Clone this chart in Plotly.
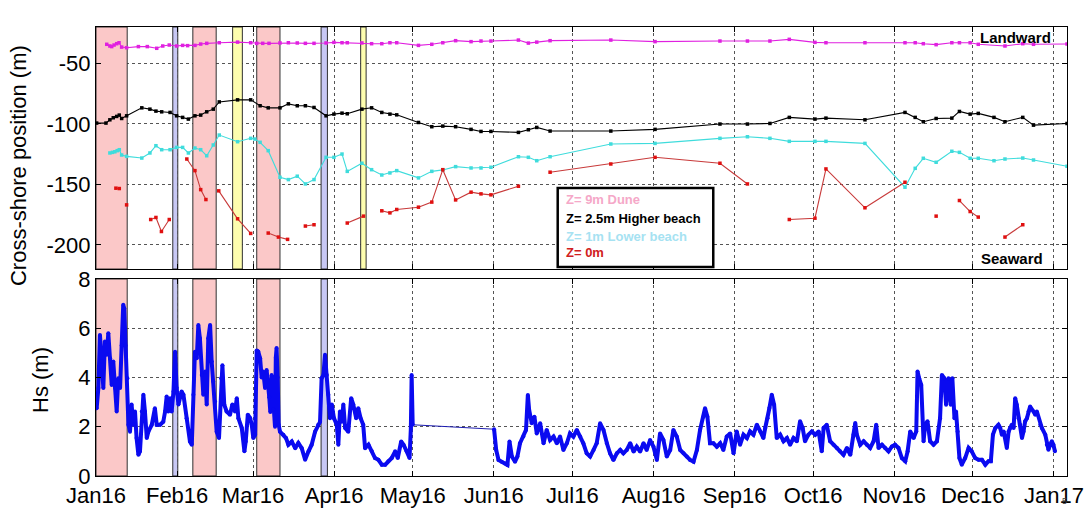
import plotly.graph_objects as go
from plotly.subplots import make_subplots
from datetime import datetime, timedelta

BASE = datetime(2016, 1, 1)

# ---------------- data (days since 2016-01-01) ----------------
dune_day = [4.1, 5.3, 6.0, 6.9, 7.9, 8.8, 9.8, 11.7, 16.2, 19.6, 23.2, 25.5, 28.0, 30.8, 33.1, 35.0,
            37.8, 40.0, 42.3, 47.1, 54.1, 59.1, 61.4, 63.7, 66.1, 70.3, 73.5, 76.9, 80.0, 83.3, 87.9, 90.9,
            94.0, 96.0, 101.6, 105.3, 109.2, 112.3, 114.9, 123.2, 128.3, 132.5, 137.4, 143.3, 147.1, 150.9,
            161.4, 165.2, 168.4, 173.5, 196.7, 213.6, 238.4, 248.9, 257.5, 264.9, 274.7, 278.9, 293.8, 309.1,
            313.0, 316.1, 321.0, 327.0, 329.9, 334.0, 337.1, 347.3, 354.1, 358.2, 371]
dune_m = [-34.3, -35.7, -36.2, -34.9, -33.8, -33.0, -36.6, -37.1, -36.2, -36.2, -37.6, -35.7, -34.9, -35.7, -35.2, -35.4,
          -35.2, -34.1, -33.5, -33.0, -32.5, -33.0, -33.5, -33.5, -33.5, -33.2, -33.0, -33.2, -33.5, -33.5, -33.2, -32.7,
          -33.0, -33.0, -33.2, -33.8, -33.8, -33.0, -33.0, -35.2, -34.3, -33.0, -31.3, -32.1, -31.6, -31.6,
          -30.8, -33.3, -32.5, -31.3, -30.8, -32.1, -31.6, -31.6, -31.6, -30.2, -32.7, -33.0, -33.0, -33.0,
          -33.0, -33.8, -34.6, -33.0, -33.0, -33.0, -34.3, -35.7, -33.8, -34.3, -34.0]

high_day = [0.25, 3.8, 5.3, 6.6, 7.9, 8.9, 9.8, 11.7, 17.5, 20.6, 22.9, 25.1, 28.3, 30.8, 33.1, 35.3,
            37.8, 40.0, 42.3, 44.8, 47.1, 54.1, 59.1, 62.7, 65.8, 70.3, 73.5, 76.9, 80.0, 83.3, 87.9, 90.9,
            94.0, 96.0, 101.6, 105.3, 109.2, 112.3, 114.9, 123.2, 128.3, 132.5, 137.4, 143.3, 147.1, 150.9,
            161.4, 165.2, 168.4, 173.5, 196.7, 213.6, 238.4, 248.9, 257.5, 264.9, 274.7, 278.9, 293.8, 309.1,
            313.0, 316.1, 321.0, 327.0, 329.9, 334.0, 337.1, 343.1, 347.3, 354.1, 358.2, 371]
high_m = [-99.4, -99.4, -96.7, -95.0, -93.9, -92.8, -95.6, -93.4, -86.8, -87.9, -89.5, -90.1, -90.6, -93.4, -94.7, -96.1,
          -93.4, -92.8, -90.1, -87.9, -81.9, -80.2, -80.2, -85.1, -86.8, -86.8, -83.5, -85.1, -85.1, -86.5, -93.4, -92.0,
          -91.2, -91.7, -87.9, -86.8, -90.6, -92.0, -92.6, -98.9, -102.4, -101.9, -102.4, -104.6, -106.3, -106.3,
          -107.1, -104.9, -103.0, -106.0, -106.0, -104.6, -100.2, -100.2, -99.7, -94.7, -96.1, -95.3, -96.7, -90.6,
          -94.7, -98.3, -95.6, -95.3, -89.8, -92.0, -91.4, -94.7, -98.3, -94.7, -101.1, -99.7]

low_day = [5.3, 6.3, 7.2, 8.1, 8.9, 9.8, 11.7, 17.5, 20.6, 22.9, 25.1, 28.3, 30.8, 33.1, 35.3,
           37.8, 40.0, 42.3, 44.8, 47.1, 54.1, 59.1, 60.7, 62.7, 65.8, 70.3, 73.5, 76.9, 80.0, 83.3, 87.9,
           90.9, 94.0, 96.0, 101.6, 105.3, 109.2, 112.3, 114.9, 123.2, 128.3, 132.5, 137.4, 143.3, 147.1, 150.9,
           161.4, 165.2, 168.4, 173.5, 196.7, 213.6, 238.4, 248.9, 257.5, 264.9, 274.7, 278.9, 293.8, 309.1,
           313.0, 316.1, 321.0, 327.0, 329.9, 334.0, 337.1, 343.1, 347.3, 354.1, 358.2, 371]
low_m = [-124.1, -123.6, -123.1, -122.2, -121.4, -125.8, -126.9, -128.3, -124.1, -118.1, -121.4, -121.4, -119.5, -119.5, -124.1,
         -120.0, -121.4, -126.4, -117.5, -109.3, -114.8, -112.0, -112.6, -115.3, -122.2, -144.2, -146.1, -143.3, -149.7, -146.1, -127.7,
         -127.7, -125.0, -139.3, -132.6, -137.9, -142.3, -140.6, -138.7, -144.7, -139.3, -138.1, -135.4, -136.5, -136.5, -135.9,
         -127.2, -127.7, -130.5, -127.2, -116.7, -116.2, -112.0, -110.7, -112.0, -114.5, -114.5, -114.5, -116.2, -152.4,
         -136.8, -128.5, -131.8, -122.7, -123.6, -128.5, -128.5, -130.5, -129.1, -128.3, -129.9, -135.1]

# Z = 0 m (None = gap between survey segments)
zero_day = [7.6, 8.9, None, 11.7, None, 20.9, 22.9, 25.0, 28.0, None, 34.7, 37.8, 40.0, 42.0, None,
            46.9, 54.1, 59.1, None, 65.8, 69.7, 73.2, None, 80.0, 83.3, None, 96.0, 102.2, None,
            109.2, 112.3, 114.9, 123.2, 128.3, 132.5, 137.4, 143.3, 147.1, 150.9, 161.4, None,
            173.5, 196.7, 213.6, 238.4, 248.9, None, 264.9, 274.7, 278.9, 293.8, 309.1, None,
            321.0, None, 329.9, 334.0, 337.1, None, 347.3, 354.1]
zero_m = [-153.2, -153.5, None, -167.0, None, -179.1, -177.4, -189.0, -179.1, None, -129.1, -138.7, -154.4, -162.6, None,
          -155.4, -178.5, -190.6, None, -190.3, -193.6, -195.5, None, -184.5, -183.4, None, -182.0, -176.3, None,
          -171.9, -173.6, -170.8, -168.9, -164.7, -137.9, -162.9, -156.5, -157.9, -158.7, -151.6, None,
          -140.0, -133.2, -127.7, -132.6, -149.7, None, -179.1, -178.0, -137.3, -169.4, -148.3, None,
          -176.3, None, -163.4, -172.5, -177.1, None, -193.6, -183.4]

# Significant wave height, Jan - Apr (before data gap)
hs_day_a = [0, 0.25, 0.9, 1.5, 2.2, 2.8, 3.4, 4.1, 4.7, 5.4, 6.0, 6.6, 7.3, 7.9, 8.5, 9.2, 9.8, 10.4, 10.8, 11.3,
            12.0, 12.4, 13.0, 13.6, 14.3, 14.9, 15.5, 16.2, 16.8, 17.5, 18.1, 18.7, 19.4, 20.0, 21.3, 22.5, 23.2,
            24.5, 25.7, 26.4, 27.0, 27.6, 28.3, 28.9, 29.6, 30.2, 30.8, 31.5, 32.7, 33.4, 34.6, 35.9, 36.6, 37.2,
            37.8, 38.5, 39.1, 39.7, 40.4, 41.0, 41.7, 42.3, 42.9, 43.6, 44.2, 44.8, 45.5, 46.1, 47.0, 47.8, 48.3,
            49.0, 49.9, 51.2, 52.1, 53.1, 53.8, 54.4, 55.7, 56.7, 57.2, 58.0, 58.9, 59.5, 60.1, 60.8,
            61.4, 62.0, 62.7, 63.3, 63.9, 64.6, 65.2, 66.2, 66.6, 67.1, 67.8, 68.4, 68.7, 69.0, 69.4, 69.8,
            70.3, 71.6, 72.6, 73.5, 74.8, 76.1, 77.3, 78.6, 79.9, 81.2, 82.4, 83.7, 84.9, 85.6, 86.2, 86.9,
            87.5, 88.2, 88.8, 89.4, 90.1, 90.9, 92.0, 92.6, 93.2, 93.9, 94.5, 95.2, 96.4, 97.5, 98.3, 99.4,
            100.2, 101.1, 102.1, 102.8, 104.1, 105.4, 106.6, 107.9, 109.2, 110.5, 111.7, 113.0, 114.3, 115.3,
            116.6, 117.5, 118.7, 119.8, 120.3, 120.6, 121.0]
hs_m_a = [3.3, 2.75, 3.57, 5.73, 4.65, 3.57, 5.46, 4.92, 5.8, 4.78, 3.7, 4.65, 3.57, 2.62, 3.97, 3.57, 5.3, 6.95, 6.8, 5.3,
          3.97, 2.08, 1.8, 2.9, 2.08, 2.62, 1.54, 0.86, 1.0, 2.62, 3.3, 2.62, 1.54, 1.8, 2.08, 2.75, 2.08,
          2.08, 2.2, 2.62, 3.23, 2.62, 3.16, 2.62, 3.43, 5.05, 3.57, 2.9, 3.43, 3.3, 2.35, 1.4, 1.27, 3.3,
          5.05, 4.78, 6.13, 5.59, 4.1, 3.3, 4.24, 2.9, 5.59, 6.13, 4.65, 3.84, 3.03, 1.8, 1.54, 3.97, 4.5,
          2.9, 2.62, 2.49, 2.9, 2.62, 3.16, 2.35, 1.95, 1.0, 1.4, 2.49, 2.35, 2.08, 1.54, 1.68,
          5.1, 5.05, 4.78, 4.0, 4.24, 3.57, 4.3, 3.2, 2.6, 4.1, 2.7, 2.0, 4.8, 5.2, 4.0, 2.08,
          1.8, 1.68, 1.54, 1.27, 1.4, 1.13, 1.34, 1.13, 0.66, 1.0, 1.27, 1.8, 2.08, 2.2, 3.97, 4.1,
          4.92, 4.1, 3.3, 2.35, 2.9, 2.35, 2.08, 1.27, 2.62, 2.2, 2.9, 1.95, 1.8, 3.16, 2.9, 2.35,
          2.75, 2.35, 2.08, 1.13, 1.27, 1.0, 0.73, 0.66, 0.46, 0.46, 0.6, 0.73, 1.0, 0.73,
          1.4, 1.27, 1.0, 0.73, 1.95, 4.1, 2.08]

# Significant wave height, Jun - Dec (after data gap)
hs_day_b = [152.1, 152.9, 153.8, 155.0, 156.3, 157.2, 158.0, 158.9, 160.1, 161.0, 162.0, 163.3, 164.3, 165.0,
            165.5, 166.5, 167.5, 168.4, 169.7, 171.0, 172.2, 173.5, 174.8, 176.1, 177.3, 178.6, 179.9, 181.1,
            182.4, 183.7, 185.0, 186.2, 187.5, 188.8, 190.1, 191.3, 192.6, 193.9, 195.2, 196.4, 197.7, 199.0,
            200.3, 201.5, 202.8, 204.1, 205.4, 206.6, 207.9, 209.2, 210.4, 211.7, 213.0, 214.3, 215.5, 216.8,
            218.1, 219.4, 220.6, 221.9, 223.2, 224.5, 225.7, 227.0, 228.3, 229.6, 230.8, 232.1, 232.7, 233.6,
            234.6, 235.9, 237.2, 238.5, 239.7, 241.0, 242.3, 243.6,
            244.8, 246.1, 247.4, 248.7, 249.9, 251.2, 252.5, 253.8, 255.0, 255.7, 256.6, 257.3, 258.2, 259.1,
            260.1, 261.4, 262.7, 264.0, 265.2, 266.5, 267.8, 269.0, 270.0, 270.9, 272.2, 273.5, 274.8, 276.1,
            277.3, 278.0, 279.2, 280.5, 281.8, 283.1, 284.3, 285.6, 286.9, 288.2, 289.4, 290.1, 290.7, 292.0,
            293.3, 294.5, 295.8, 297.1, 298.1, 299.0, 300.3, 301.5, 302.8, 304.1, 305.3, 306.6, 307.9, 309.2,
            310.1, 311.1, 312.4, 313.4, 313.9, 314.5, 315.3, 316.2, 316.8, 317.7, 318.7, 320.0, 321.3, 322.5,
            323.2, 324.1, 324.8, 325.7, 326.6, 327.2, 328.0, 328.6, 329.2, 329.9, 330.8, 332.1, 333.4, 334.6,
            335.9, 337.2, 338.5, 339.8, 341.0, 341.9, 342.7, 343.6, 344.8,
            345.5, 346.1, 346.8, 348.0, 348.7, 349.3, 349.9, 350.6, 351.2, 351.8, 352.5, 353.1, 353.8, 354.4,
            355.0, 355.7, 356.3, 356.9, 358.2, 358.9, 359.5, 360.8, 361.4, 362.7, 363.3, 363.9, 364.6, 365.2,
            365.8, 366.4]
hs_m_b = [1.9, 1.06, 0.65, 0.58, 0.51, 0.45, 1.4, 0.79, 0.58, 0.79, 1.33, 1.6, 1.87, 3.29,
          2.68, 2.14, 2.41, 1.73, 2.14, 1.33, 1.87, 1.46, 1.6, 1.33, 1.6, 1.06, 1.33, 1.73,
          1.6, 1.87, 1.6, 1.33, 0.92, 0.79, 1.06, 1.33, 2.14, 1.87, 1.33, 0.92, 0.65, 0.92,
          1.06, 0.92, 1.06, 1.33, 0.99, 1.19, 0.99, 1.33, 1.06, 1.46, 1.19, 0.65, 1.73, 1.46,
          0.79, 1.06, 1.87, 1.6, 1.06, 0.92, 0.79, 0.65, 0.58, 1.06, 1.87, 2.41, 2.75, 2.41,
          1.33, 1.33, 1.19, 1.33, 1.06, 1.6, 1.73, 0.92,
          1.81, 1.27, 1.68, 1.54, 1.81, 1.68, 2.08, 1.81, 1.54, 1.95, 2.35, 2.76, 3.3, 2.89,
          1.54, 1.68, 1.41, 1.54, 1.27, 1.54, 1.41, 2.22, 1.95, 1.41, 1.68, 1.81, 1.68, 1.81,
          1.0, 1.95, 2.08, 1.41, 1.27, 1.14, 1.0, 0.86, 1.14, 0.86, 1.68, 2.15, 1.68, 1.27,
          1.41, 1.27, 1.14, 1.41, 2.08, 1.14, 1.27, 1.14, 1.0, 1.2, 1.27, 1.14, 0.73, 0.6,
          1.0, 1.81, 1.54, 1.81, 4.24, 3.97, 3.7, 1.41, 2.08, 2.22, 1.41, 1.27, 1.41, 2.35,
          4.1, 3.97, 2.89, 3.97, 2.89, 3.97, 2.35, 2.62, 1.81, 0.73, 0.46, 0.73, 1.14, 1.0,
          0.73, 0.66, 0.66, 0.46, 0.6, 0.6, 1.68, 1.95, 2.08,
          1.95, 1.68, 1.81, 1.14, 1.81, 1.95, 2.08, 1.95, 3.16, 2.89, 2.35, 2.08, 1.54, 1.81,
          2.22, 2.35, 2.62, 2.82, 2.62, 2.49, 2.62, 2.08, 1.95, 1.68, 1.27, 1.07, 1.27, 1.41,
          1.27, 1.0]

# Storm / event bands
band_red_start = ["2016-01-01 00:00", "2016-02-07 00:00", "2016-03-02 10:00"]
band_red_end = ["2016-01-12 22:00", "2016-02-15 22:00", "2016-03-11 07:00"]
band_blue_start = ["2016-01-30 08:00", "2016-03-27 00:00"]
band_blue_end = ["2016-02-01 06:00", "2016-03-29 10:00"]
band_yellow_start = ["2016-02-22 05:00", "2016-04-11 03:00"]
band_yellow_end = ["2016-02-25 22:00", "2016-04-13 05:00"]

# axes
x_start, x_end = "2016-01-01", "2017-01-06"
pos_range = [-220, -20]
pos_ticks = [-50, -100, -150, -200]
pos_ticktext = ["-50", "-100", "-150", "-200"]
hs_range = [0, 8]
hs_ticks = [0, 2, 4, 6, 8]


def to_dates(days):
    return [BASE + timedelta(days=d) if d is not None else None for d in days]


FONT = "Liberation Sans, Arial, sans-serif"

fig = make_subplots(rows=2, cols=1, shared_xaxes=True)


# event bands as filled traces (drawn over the gridlines, under the data)
def add_band(s, e, fill, row, yr):
    fig.add_trace(go.Scatter(x=[s, e, e, s, s], y=[yr[0], yr[0], yr[1], yr[1], yr[0]],
                             mode="lines", fill="toself", fillcolor=fill,
                             line=dict(color="#303030", width=1), hoverinfo="skip",
                             showlegend=False), row=row, col=1)


for row, yr in [(1, pos_range), (2, hs_range)]:
    for s, e in zip(band_red_start, band_red_end):
        add_band(s, e, "#fbc8c8", row, yr)
    for s, e in zip(band_blue_start, band_blue_end):
        add_band(s, e, "#c8c8f4", row, yr)
for s, e in zip(band_yellow_start, band_yellow_end):
    add_band(s, e, "#fdfdae", 1, pos_range)

series = [
    (low_day, low_m, "#3fdcdc", "#3fdcdc"),
    (high_day, high_m, "#000000", "#000000"),
    (dune_day, dune_m, "#e020e0", "#e020e0"),
    (zero_day, zero_m, "#c83a3a", "#e01010"),
]
for d, v, lc, mc in series:
    fig.add_trace(go.Scatter(x=to_dates(d), y=v, mode="lines+markers",
                             line=dict(color=lc, width=1.1),
                             marker=dict(color=mc, size=3.5, symbol="square"),
                             connectgaps=False, showlegend=False), row=1, col=1)

fig.add_trace(go.Scatter(x=to_dates([hs_day_a[-1], hs_day_b[0]]), y=[hs_m_a[-1], hs_m_b[0]],
                         mode="lines", line=dict(color="#1c1cb0", width=1), showlegend=False), row=2, col=1)
for d, v in [(hs_day_a, hs_m_a), (hs_day_b, hs_m_b)]:
    fig.add_trace(go.Scatter(x=to_dates(d), y=v, mode="lines+markers",
                             line=dict(color="#0a0af0", width=4),
                             marker=dict(color="#0a0af0", size=4, symbol="circle"),
                             showlegend=False), row=2, col=1)

# legend box
shapes = [dict(type="rect", xref="paper", yref="paper", x0=0.4755, x1=0.6357, y0=0.4655, y1=0.6414,
               fillcolor="white", line=dict(color="black", width=2.5), layer="above")]

ann = []
leg_items = [("Z= 9m Dune", "#f5a8c8"), ("Z= 2.5m Higher beach", "#000000"),
             ("Z= 1m Lower beach", "#a6e2f2"), ("Z= 0m", "#d02020")]
leg_y = [0.6147, 0.5746, 0.5345, 0.4967]
for (t, c), yy in zip(leg_items, leg_y):
    ann.append(dict(text="<b>%s</b>" % t, x=0.482, y=yy, xref="paper", yref="paper", xanchor="left",
                    yanchor="middle", showarrow=False, font=dict(family=FONT, size=13, color=c)))

ann.append(dict(text="<b>Landward</b>", x=0.9856, y=0.9777, xref="paper", yref="paper", xanchor="right",
                yanchor="middle", showarrow=False, font=dict(family=FONT, size=15, color="black")))
ann.append(dict(text="<b>Seaward</b>", x=0.9773, y=0.4833, xref="paper", yref="paper", xanchor="right",
                yanchor="middle", showarrow=False, font=dict(family=FONT, size=15, color="black")))
ann.append(dict(text="Cross-shore position (m)", x=-0.0803, y=0.6904, xref="paper", yref="paper",
                textangle=-90, xanchor="center", yanchor="middle", showarrow=False,
                font=dict(family=FONT, size=22, color="black")))
ann.append(dict(text="Hs (m)", x=-0.0577, y=0.2138, xref="paper", yref="paper",
                textangle=-90, xanchor="center", yanchor="middle", showarrow=False,
                font=dict(family=FONT, size=22, color="black")))
ann.append(dict(text="5", x=0.997, y=-0.056, xref="paper", yref="paper", xanchor="center",
                yanchor="middle", showarrow=False, font=dict(family=FONT, size=9, color="#444")))

axis_common = dict(showline=True, linecolor="black", linewidth=1, mirror="ticks", ticks="inside",
                   ticklen=5, tickcolor="black", showgrid=True, gridcolor="#555555", griddash="dot",
                   gridwidth=1, zeroline=False, automargin=False,
                   tickfont=dict(family=FONT, size=22, color="black"))

fig.update_layout(
    width=1089, height=510, margin=dict(l=96, r=22, t=27, b=34),
    paper_bgcolor="white", plot_bgcolor="white", showlegend=False,
    shapes=shapes, annotations=ann,
    xaxis=dict(axis_common, type="date", range=[x_start, x_end], tick0="2016-01-01", dtick="M1",
               showticklabels=False, anchor="y"),
    xaxis2=dict(axis_common, type="date", range=[x_start, x_end], tick0="2016-01-01", dtick="M1",
                tickformat="%b%y", matches="x", anchor="y2"),
    yaxis=dict(axis_common, domain=[0.461, 1.0], range=pos_range, tickvals=pos_ticks,
               ticktext=pos_ticktext),
    yaxis2=dict(axis_common, domain=[0.0, 0.4388], range=hs_range, tickvals=hs_ticks),
)

fig.write_html("out.html")
